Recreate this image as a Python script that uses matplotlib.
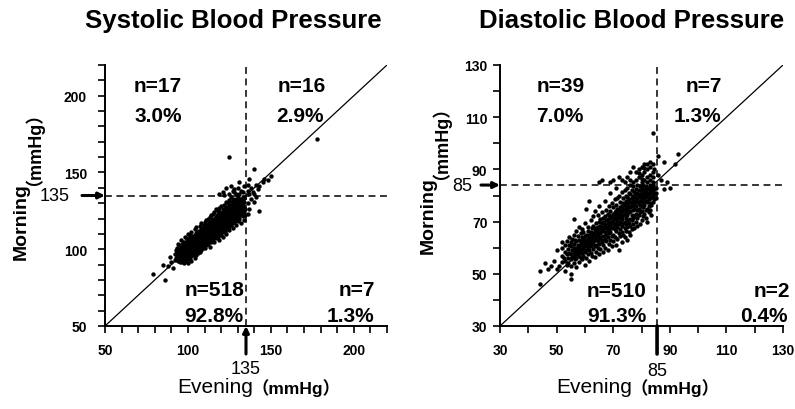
import matplotlib
matplotlib.use("Agg")
import matplotlib.pyplot as plt

plt.rcParams['font.family'] = ['Liberation Sans', 'Noto Sans CJK JP', 'DejaVu Sans']

# ---------------- Systolic data: (evening, [morning values]) mmHg ----------------
sys_outliers_low = [(79, [84]), (85, [90]), (86, [80]), (88, [89]), (89, [95]), (90, [92]), (91, [88]), (92, [93, 97])]
sys_cols_a = [
    (93, [94.5, 97, 99.5]), (93.5, [95, 98, 101]), (94, [92.5, 96, 98.5, 100, 103.5]), (94.5, [94, 97, 99, 101.5]),
    (95, [91.5, 95, 96.5, 98, 100.5, 102]), (95.5, [93, 95.5, 97.5, 99, 101]), (96, [94, 96, 98.5, 99.5, 102.5, 106]),
    (96.5, [92, 95, 97, 98, 100, 103]), (97, [93.5, 96.5, 98, 99, 101.5, 104.5]), (97.5, [91, 95, 97.5, 99.5, 100.5, 102]),
    (98, [93, 96, 97, 98.5, 100, 103, 108]), (98.5, [94.5, 96.5, 99, 101, 102.5, 105]), (99, [92.5, 95.5, 97.5, 100, 101.5, 104]),
    (99.5, [94, 96, 98.5, 100.5, 103, 106.5]), (100, [91, 95, 97, 99.5, 101, 102, 105.5, 110]), (100.5, [93.5, 96.5, 98, 100, 103.5, 107]),
]
sys_cols_b = [
    (101, [95.5, 98.5, 101, 102.5, 104, 109]), (101.5, [94, 97, 99.5, 102, 105.5]), (102, [92.5, 96.5, 100.5, 103, 104.5, 107.5, 111]),
    (102.5, [98, 101, 102.5, 106]), (103, [96, 99, 102, 104, 105.5, 108.5]), (103.5, [97.5, 100.5, 103, 106.5]),
    (104, [94.5, 99.5, 101.5, 104.5, 105, 107, 113]), (104.5, [98, 102.5, 104, 106, 109.5]), (105, [96.5, 100, 103.5, 105.5, 107.5, 110.5, 114.5]),
    (105.5, [99, 102, 105, 108, 111]), (106, [97.5, 101, 104, 106.5, 107, 109.5]), (106.5, [100, 103.5, 105.5, 108.5, 112]),
    (107, [98.5, 102.5, 105, 107.5, 108, 110.5, 115]), (107.5, [101.5, 104.5, 106, 109, 111.5]), (108, [99.5, 103, 106.5, 108.5, 110, 113, 117]),
    (108.5, [102, 105, 107.5, 109.5, 112]), (109, [100.5, 104, 107, 109, 111, 114]), (109.5, [103, 106, 108.5, 110.5, 116]),
    (110, [101, 105.5, 108, 110, 111.5, 112.5, 118]), (110.5, [104, 107, 109.5, 111, 114.5]),
]
sys_cols_c = [
    (111, [102.5, 106.5, 110, 112, 113.5, 119]), (111.5, [105, 108.5, 111, 113, 116]), (112, [103.5, 107.5, 110.5, 112.5, 114, 120]),
    (112.5, [106, 109, 112, 115, 117]), (113, [101.5, 108, 111.5, 113.5, 115.5, 121]), (113.5, [105.5, 110, 112.5, 114.5, 118]),
    (114, [104.5, 107, 111, 113, 115, 116.5, 122]), (114.5, [108.5, 112, 114, 117.5, 119.5]), (115, [106.5, 110, 113.5, 115.5, 116, 123]),
    (115.5, [109, 111.5, 114.5, 117, 119]), (116, [105, 108, 112.5, 115, 116.5, 118.5, 124]), (116.5, [110.5, 113, 116, 118, 120.5]),
    (117, [107.5, 111, 114, 116.5, 117.5, 121, 126]), (117.5, [109.5, 113.5, 115.5, 119, 122.5]), (118, [108, 112, 115, 117, 118.5, 120, 125]),
    (118.5, [111.5, 114.5, 117.5, 119.5, 123]), (119, [106, 110, 113, 116, 118, 120.5, 127]), (119.5, [112.5, 115.5, 119, 121.5, 124]),
    (120, [109, 114, 117.5, 119.5, 120.5, 122, 128]), (120.5, [111, 116, 118.5, 121, 123.5]),
]
sys_cols_d = [
    (121, [108, 113, 115.5, 119, 121.5, 126]), (121.5, [112, 117, 120, 122.5, 124.5]), (122, [114.5, 118, 120.5, 123, 129]),
    (122.5, [111.5, 116.5, 119.5, 122, 125]), (123, [110, 115, 118.5, 121, 124, 127.5, 131]), (123.5, [113.5, 117.5, 120, 123, 126]),
    (124, [116, 119, 122.5, 124.5, 130]), (124.5, [112.5, 118, 121.5, 125, 128]), (125, [114.5, 117, 120.5, 123.5, 126.5, 132]),
    (125.5, [119, 122, 124, 127.5]), (126, [115.5, 118.5, 121, 125, 128.5, 134]), (126.5, [117, 120, 123, 126, 130.5]),
    (127, [114, 119.5, 122.5, 125.5, 129, 133]), (127.5, [118, 121.5, 124.5, 127.5]), (128, [117.5, 120.5, 123.5, 126.5, 131]),
    (128.5, [119, 122, 125.5, 129.5]), (129, [116, 121.5, 124, 127, 133]), (129.5, [120, 126, 128.5, 131.5]),
    (130, [118.5, 122.5, 125, 129, 134]), (130.5, [121, 127.5, 130.5]), (131, [120, 124, 128, 132]), (131.5, [125.5, 129.5]),
    (132, [117, 123, 126.5, 131, 133]), (132.5, [127.5, 130]), (133, [121.5, 125, 128.5, 132.5, 134]),
    (134, [119, 124.5, 127, 130.5, 133.5]), (134.5, [122, 126]),
]
sys_upper_left = [(119, [136]), (121, [137]), (122, [135.5]), (123, [140]), (125, [136, 160]), (126, [141]), (127, [138]),
                  (128, [137, 139]), (129, [136]), (130, [140]), (131, [136, 144]), (132, [138]), (133, [137]), (134, [141])]
sys_upper_right = [(136, [138, 142]), (137, [136, 146]), (138, [140]), (139, [137]), (140, [136, 152]), (141, [142]),
                   (142, [139]), (143, [141]), (145, [144]), (146, [146]), (148, [145]), (150, [148]), (178, [172])]
sys_lower_right = [(136, [123, 130]), (137, [126]), (138, [133]), (140, [131]), (141, [134]), (143, [125])]

sys_quadrant_n = ["n=17", "n=16", "n=518", "n=7"]
sys_quadrant_pct = ["3.0%", "2.9%", "92.8%", "1.3%"]

# ---------------- Diastolic data: (evening, [morning values]) mmHg ----------------
dia_outliers_low = [(44, [46, 51]), (46, [54]), (47, [52]), (48, [53]), (49, [55]), (50, [52, 59]), (51, [53]),
                    (52, [62]), (53, [51]), (55, [48, 50]), (56, [71])]
dia_cols_a = [
    (52, [54.5, 57, 60]), (52.5, [56]), (53, [55, 58.5, 61]), (53.5, [53.5, 57.5, 62.5]), (54, [54, 56, 59.5]),
    (54.5, [58, 61, 64]), (55, [53, 55.5, 57.5, 60.5, 62]), (55.5, [56.5, 59, 63.5]), (56, [54, 58, 60, 61.5, 65]),
    (56.5, [55.5, 57, 59.5, 63]), (57, [52.5, 56, 58.5, 60, 62.5, 66.5]), (57.5, [57.5, 59, 61, 64.5]),
    (58, [54.5, 57, 59.5, 60.5, 63, 68]), (58.5, [56, 58.5, 61.5, 62, 65.5]), (59, [55.5, 58, 60, 62.5, 64, 67]),
    (59.5, [57, 59.5, 61, 63.5, 66]), (60, [53.5, 58.5, 60.5, 62, 64.5, 69.5]), (60.5, [56, 59, 61.5, 63, 65, 75]),
]
dia_cols_b = [
    (61, [57.5, 60, 62, 63.5, 66.5, 68]), (61.5, [55, 59, 61, 64, 65, 78]), (62, [58, 60.5, 62.5, 64, 66, 70.5]),
    (62.5, [57, 61.5, 63, 65.5, 67.5]), (63, [59.5, 62, 64.5, 65, 68.5, 72]), (63.5, [56.5, 60.5, 63, 66, 67, 74]),
    (64, [58.5, 61, 64, 65.5, 67.5, 69.5]), (64.5, [60, 62.5, 65, 66.5, 68, 72.5]), (65, [57.5, 61.5, 63.5, 66, 67, 70, 76]),
    (65.5, [59.5, 64, 65.5, 68.5, 71]), (66, [62, 63, 66.5, 68, 69.5, 73.5]), (66.5, [58.5, 61, 64.5, 67, 70, 71.5]),
    (67, [60, 63.5, 66, 68.5, 69, 72, 78]), (67.5, [62.5, 65, 67.5, 70.5, 74.5]), (68, [59, 64, 66.5, 68, 69.5, 71, 73]),
    (68.5, [61.5, 65.5, 67, 70, 72.5, 76]), (69, [63, 66, 68.5, 69.5, 71.5, 74, 81]), (69.5, [60.5, 64.5, 67.5, 70, 72, 77]),
    (70, [62.5, 65, 69, 70.5, 73, 75.5]), (70.5, [64, 67, 68.5, 71.5, 73.5, 78.5]),
]
dia_cols_c = [
    (71, [61, 66.5, 69.5, 71, 72.5, 74, 76.5, 83]), (71.5, [63.5, 68, 70.5, 73, 75, 79]), (72, [59, 65.5, 69, 71.5, 72.5, 74.5, 80]),
    (72.5, [64.5, 67, 70, 73.5, 75.5, 77.5]), (73, [62, 66, 68.5, 71, 72, 74, 76, 81.5]), (73.5, [65, 69.5, 72.5, 75, 77, 79]),
    (74, [64, 67.5, 70, 73, 74.5, 76.5, 82]), (74.5, [66.5, 69, 71.5, 74, 75.5, 78, 80]), (75, [63, 68, 70.5, 72.5, 75, 77, 79.5, 83]),
    (75.5, [66, 69.5, 73.5, 76, 78.5, 81]), (76, [65, 68.5, 71, 74, 75.5, 77.5, 80.5, 84]), (76.5, [67, 70.5, 72.5, 76.5, 79, 82]),
    (77, [69, 71.5, 74.5, 76, 78, 80, 83.5]), (77.5, [67.5, 72, 75, 77, 79.5, 81.5]), (78, [70, 73, 76, 78.5, 80.5, 82.5]),
    (78.5, [68.5, 71.5, 74.5, 77.5, 79, 81, 84]), (79, [72.5, 75, 77, 79.5, 80, 82]), (79.5, [69, 73.5, 76.5, 78, 80.5, 83.5]),
    (80, [70.5, 74, 76, 78.5, 79.5, 81.5, 83]), (80.5, [72, 75.5, 77.5, 80, 82, 84]),
]
dia_cols_d = [
    (81, [73, 76.5, 79, 80.5, 82.5]), (81.5, [71.5, 74.5, 78, 80, 81.5, 83.5]), (82, [70, 75, 77.5, 79.5, 81, 82.5]),
    (82.5, [73.5, 76, 78.5, 80.5, 83]), (83, [74.5, 77, 79, 81, 82, 84]), (83.5, [72.5, 76.5, 79.5, 81.5, 83]),
    (84, [77.5, 80, 81.5, 83.5]), (84.5, [78.5, 80.5, 82.5]), (85, [79, 81, 83]),
]
dia_upper_left = [(65, [85]), (66, [86]), (69, [85]), (70, [86]), (72, [87]), (73, [86]), (74, [85]), (75, [87]),
                  (76, [86, 89]), (77, [85, 91]), (78, [86, 89]), (79, [87, 88.5, 90]), (80, [85, 86.5, 88, 91]),
                  (81, [86, 89, 90.5, 92]), (82, [85, 87, 90, 92]), (83, [86, 88, 91, 93]), (84, [85, 87, 89, 92, 104]),
                  (84.5, [90])]
dia_upper_right = [(86, [88, 95]), (87, [86]), (88, [93]), (89, [85]), (92, [92]), (93, [96])]
dia_lower_right = [(88, [82.5]), (90, [83])]

dia_quadrant_n = ["n=39", "n=7", "n=510", "n=2"]
dia_quadrant_pct = ["7.0%", "1.3%", "91.3%", "0.4%"]

sys_threshold = 135
dia_threshold_x = 85.5
dia_threshold_y = 84
dia_threshold_label = "85"

W, H = 795, 410
fig = plt.figure(figsize=(W / 100, H / 100), dpi=100)


def fx(px):
    return px / W


def fy(py):
    return 1 - py / H


def make_axes(left_px, right_px, top_px, bottom_px):
    return fig.add_axes([fx(left_px), fy(bottom_px), (right_px - left_px) / W, (bottom_px - top_px) / H])


ax1 = make_axes(105, 387, 66, 327)
ax2 = make_axes(500, 783, 66, 327)


def style_axes(ax, lo, hi, step, label_step, ypad):
    ax.set_xlim(lo, hi)
    ax.set_ylim(lo, hi)
    ticks = list(range(lo, hi + 1, step))
    labels = [str(t) if (t - lo) % label_step == 0 else "" for t in ticks]
    ax.set_xticks(ticks)
    ax.set_xticklabels(labels)
    ax.set_yticks(ticks)
    ax.set_yticklabels(labels)
    for s in ("top", "right"):
        ax.spines[s].set_visible(False)
    for s in ("left", "bottom"):
        ax.spines[s].set_linewidth(1.4)
    ax.tick_params(axis="both", direction="out", length=5, width=1.2, labelsize=10)
    ax.tick_params(axis="x", pad=7)
    ax.tick_params(axis="y", pad=ypad)
    for lab in ax.get_xticklabels() + ax.get_yticklabels():
        lab.set_fontweight("bold")
    ax.plot([lo, hi], [lo, hi], color="black", lw=0.9, zorder=2)


style_axes(ax1, 50, 220, 10, 50, 8)
style_axes(ax2, 30, 130, 10, 20, 4)


def scatter_groups(ax, groups):
    xs, ys = [], []
    for g in groups:
        for e, mornings in g:
            for m in mornings:
                xs.append(e)
                ys.append(m)
    ax.scatter(xs, ys, s=10, c="black", marker="o", linewidths=0, zorder=3)


scatter_groups(ax1, [sys_outliers_low, sys_cols_a, sys_cols_b, sys_cols_c, sys_cols_d,
                     sys_upper_left, sys_upper_right, sys_lower_right])
scatter_groups(ax2, [dia_outliers_low, dia_cols_a, dia_cols_b, dia_cols_c, dia_cols_d,
                     dia_upper_left, dia_upper_right, dia_lower_right])

dash = (0, (4.5, 3))
ax1.axvline(sys_threshold, color="black", lw=1.1, ls=dash, zorder=1)
ax1.axhline(sys_threshold, color="black", lw=1.1, ls=dash, zorder=1)
ax2.axvline(dia_threshold_x, color="black", lw=1.1, ls=dash, zorder=1)
ax2.axhline(dia_threshold_y, color="black", lw=1.1, ls=dash, zorder=1)

# threshold arrows and labels
arrow_kw = dict(arrowstyle="-|>", color="black", lw=2.2, mutation_scale=9, shrinkA=0, shrinkB=0)
ax1.annotate("", xy=(sys_threshold, 50), xycoords="data", xytext=(0, -28), textcoords="offset pixels",
             arrowprops=arrow_kw, annotation_clip=False)
ax1.annotate(str(sys_threshold), xy=(sys_threshold, 50), xytext=(0, -42), textcoords="offset pixels",
             ha="center", va="center", fontsize=13, annotation_clip=False)
ax1.annotate("", xy=(50, sys_threshold), xycoords="data", xytext=(-23, 0), textcoords="offset pixels",
             arrowprops=arrow_kw, annotation_clip=False)
ax1.annotate(str(sys_threshold), xy=(50, sys_threshold), xytext=(-50, 0), textcoords="offset pixels",
             ha="center", va="center", fontsize=13, annotation_clip=False)

ax2.annotate("", xy=(dia_threshold_x, 30), xycoords="data", xytext=(0, -28), textcoords="offset pixels",
             arrowprops=dict(arrowstyle="-", color="black", lw=2.6, shrinkA=0, shrinkB=0), annotation_clip=False)
ax2.annotate(dia_threshold_label, xy=(dia_threshold_x, 30), xytext=(0, -45), textcoords="offset pixels",
             ha="center", va="center", fontsize=13, annotation_clip=False)
ax2.annotate("", xy=(30, dia_threshold_y), xycoords="data", xytext=(-19, 0), textcoords="offset pixels",
             arrowprops=arrow_kw, annotation_clip=False)
ax2.annotate(dia_threshold_label, xy=(30, dia_threshold_y), xytext=(-38, 0), textcoords="offset pixels",
             ha="center", va="center", fontsize=13, annotation_clip=False)

# titles
fig.text(fx(233), fy(21), "Systolic Blood Pressure", ha="center", va="center", fontsize=18.5, fontweight="bold")
fig.text(fx(632), fy(21), "Diastolic Blood Pressure", ha="center", va="center", fontsize=18.5, fontweight="bold")

# quadrant annotations
qkw = dict(ha="center", va="center", fontsize=15, fontweight="bold")
sys_pos = [(158, 87), (302, 87), (215, 291), (357, 291)]
sys_pos2 = [(158, 117), (300, 117), (214, 317), (350, 317)]
for t, p in zip(sys_quadrant_n, sys_pos):
    fig.text(fx(p[0]), fy(p[1]), t, **qkw)
for t, p in zip(sys_quadrant_pct, sys_pos2):
    fig.text(fx(p[0]), fy(p[1]), t, **qkw)
dia_pos = [(561, 87), (704, 87), (617, 292), (772, 292)]
dia_pos2 = [(560, 117), (697, 117), (617, 317), (764, 317)]
for t, p in zip(dia_quadrant_n, dia_pos):
    fig.text(fx(p[0]), fy(p[1]), t, **qkw)
for t, p in zip(dia_quadrant_pct, dia_pos2):
    fig.text(fx(p[0]), fy(p[1]), t, **qkw)

# axis labels
unit = "（mmHg）"
fig.text(fx(21), fy(222), "Morning", rotation=90, ha="center", va="center", fontsize=14, fontweight="bold")
fig.text(fx(24), fy(140), unit, rotation=90, ha="center", va="center", fontsize=13, fontweight="bold")
fig.text(fx(428), fy(216), "Morning", rotation=90, ha="center", va="center", fontsize=14, fontweight="bold")
fig.text(fx(431), fy(134), unit, rotation=90, ha="center", va="center", fontsize=13, fontweight="bold")
fig.text(fx(215), fy(388), "Evening", ha="center", va="center", fontsize=15)
fig.text(fx(296), fy(388), unit, ha="center", va="center", fontsize=12.5, fontweight="bold")
fig.text(fx(594), fy(388), "Evening", ha="center", va="center", fontsize=15)
fig.text(fx(675), fy(388), unit, ha="center", va="center", fontsize=12.5, fontweight="bold")

fig.savefig("out.png", dpi=100)
